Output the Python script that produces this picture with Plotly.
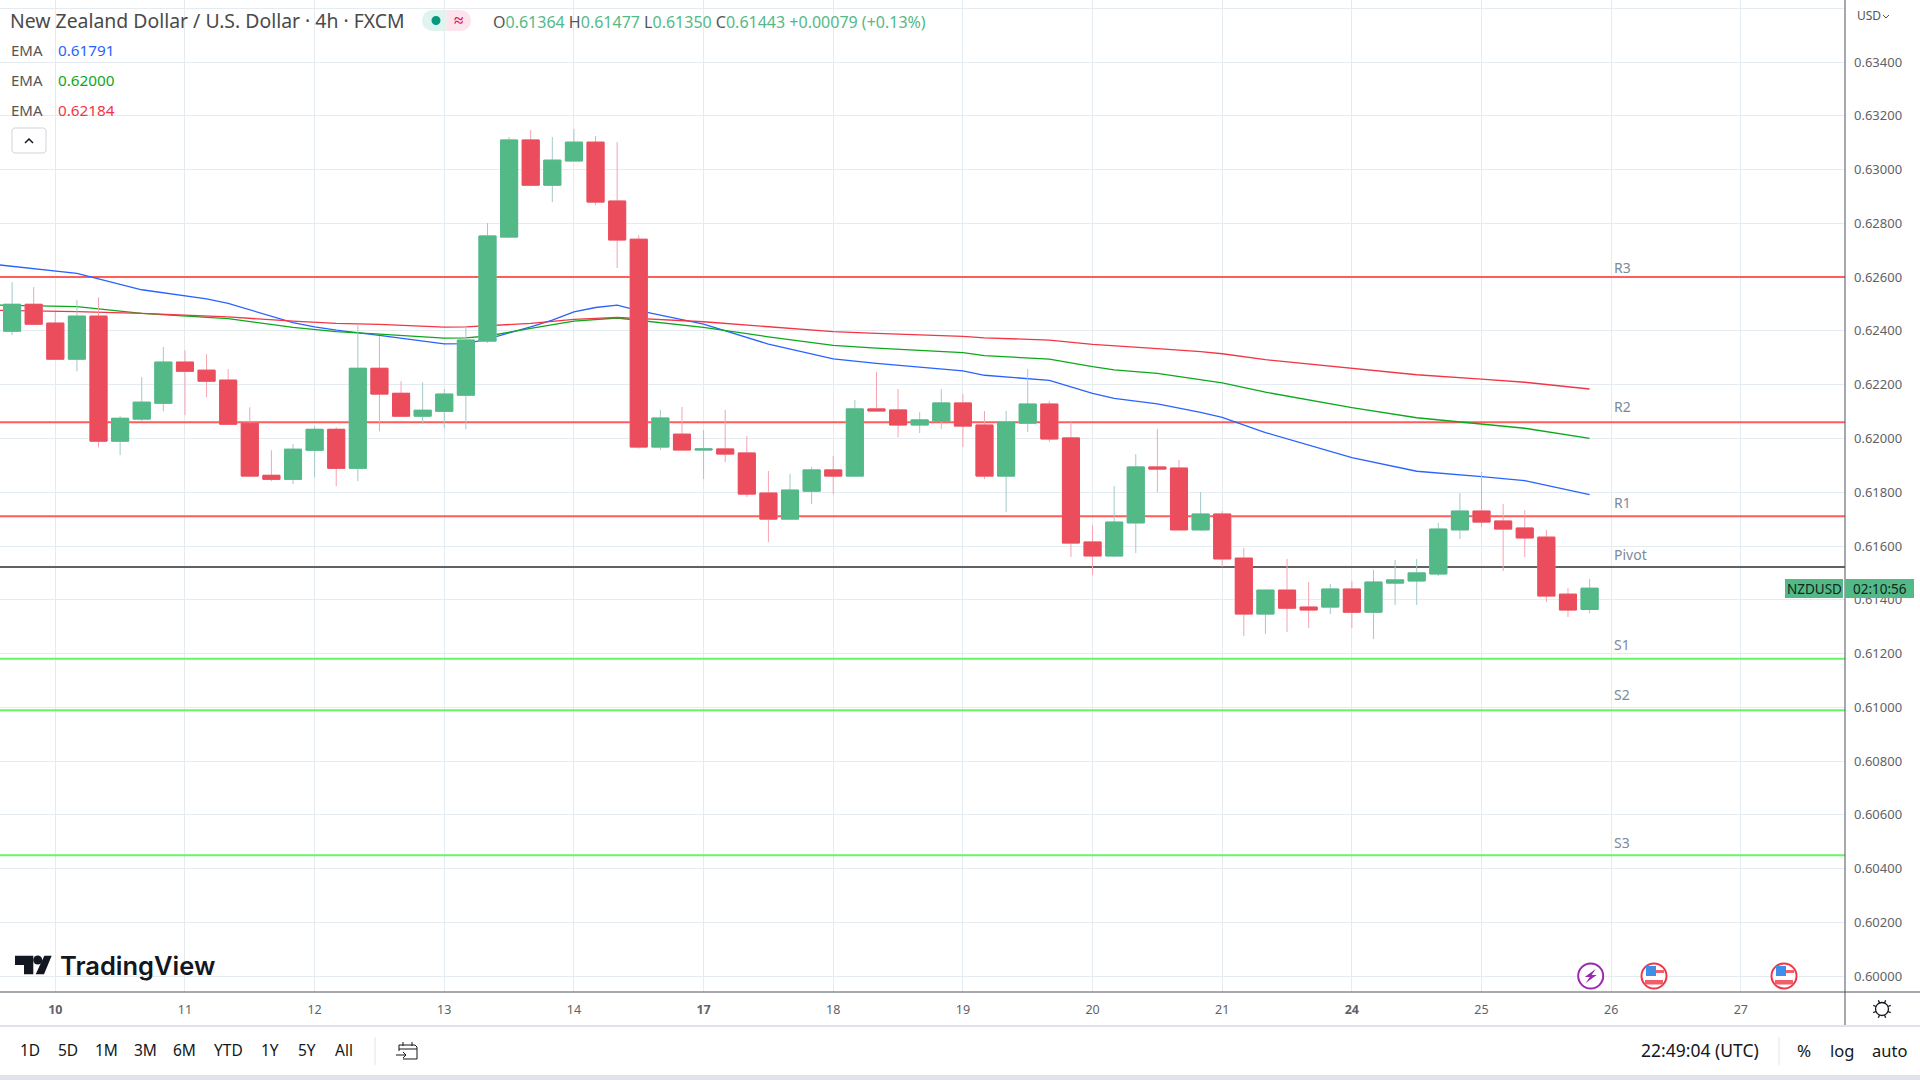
import math
import plotly.graph_objects as go

# ---------- data ----------
opens = [.62399,.62499,.62429,.62295,.62455,.61990,.62072,.62131,.62284,.62254,
         .62217,.62057,.61863,.61848,.61956,.62034,.61889,.62261,.62168,.62083,
         .62101,.62161,.62362,.62749,.63110,.62942,.63032,.63102,.62883,.62741,
         .61968,.62016,.61957,.61961,.61946,.61797,.61700,.61804,.61883,.61860,
         .62110,.62106,.62050,.62064,.62132,.62050,.61860,.62057,.62128,.62002,
         .61615,.61563,.61686,.61894,.61890,.61660,.61719,.61555,.61347,.61436,
         .61373,.61373,.61440,.61354,.61462,.61470,.61496,.61660,.61730,.61693,
         .61667,.61633,.61421,.61364]
highs = [.62581,.62563,.62470,.62514,.62525,.62083,.62228,.62340,.62328,.62313,
         .62258,.62116,.61956,.61979,.62046,.62042,.62421,.62380,.62213,.62209,
         .62183,.62418,.62801,.63121,.63147,.63121,.63151,.63125,.63102,.62756,
         .62106,.62117,.62031,.62106,.62009,.61879,.61868,.61894,.61935,.62143,
         .62247,.62184,.62098,.62184,.62165,.62102,.62102,.62258,.62139,.62061,
         .61678,.61823,.61942,.62035,.61920,.61801,.61730,.61593,.61436,.61552,
         .61466,.61459,.61470,.61511,.61548,.61552,.61686,.61797,.61875,.61756,
         .61734,.61660,.61444,.61477]
lows = [.62384,.62421,.62295,.62250,.61967,.61938,.62064,.62101,.62087,.62153,
        .62053,.61856,.61841,.61830,.61856,.61822,.61841,.62027,.62083,.62053,
        .62038,.62034,.62355,.62745,.62942,.62879,.63032,.62868,.62634,.61962,
        .61957,.61957,.61849,.61912,.61782,.61615,.61700,.61756,.61793,.61860,
        .62102,.62005,.62020,.62035,.61968,.61849,.61726,.62024,.61987,.61559,
        .61492,.61559,.61574,.61801,.61656,.61656,.61522,.61265,.61273,.61280,
        .61295,.61347,.61295,.61254,.61381,.61381,.61488,.61626,.61671,.61507,
        .61559,.61392,.61336,.61350]
closes = [.62499,.62425,.62295,.62455,.61990,.62075,.62135,.62284,.62250,.62213,
          .62053,.61860,.61848,.61960,.62034,.61889,.62261,.62165,.62083,.62105,
          .62165,.62366,.62753,.63110,.62942,.63035,.63102,.62879,.62738,.61968,
          .62076,.61957,.61961,.61942,.61793,.61700,.61808,.61883,.61860,.62110,
          .62102,.62050,.62069,.62132,.62046,.61860,.62061,.62128,.61998,.61611,
          .61563,.61689,.61894,.61886,.61660,.61719,.61552,.61347,.61436,.61369,
          .61362,.61440,.61354,.61466,.61474,.61500,.61663,.61730,.61689,.61663,
          .61630,.61414,.61362,.61443]

ema_blue_x = [-1,3,6,9,10,13,14,15,17,20,21,22,23,24,25,26,27,28,29,30,32,35,38,40,44,45,48,50,51,53,55,56,58,62,65,68,70,73]
ema_blue = [.62649,.62614,.62553,.62519,.62502,.62431,.62415,.62403,.62383,.62352,.62353,.62369,.62393,.62415,.62440,.62471,.62487,.62496,.62475,.62458,.62425,.62351,.62296,.62279,.62251,.62235,.62216,.62168,.62149,.62129,.62097,.62078,.62022,.61929,.61878,.61858,.61843,.61791]
ema_green_x = [-1,3,6,10,13,15,17,20,21,22,24,26,28,32,35,38,40,44,45,48,50,51,53,55,56,58,62,65,68,70,73]
ema_green = [.62497,.62490,.62465,.62446,.62413,.62397,.62388,.62373,.62374,.62381,.62409,.62436,.62448,.62413,.62378,.62346,.62336,.62319,.62308,.62295,.62267,.62255,.62242,.62220,.62207,.62172,.62115,.62077,.62054,.62038,.62000]
ema_red_x = [-1,3,6,10,13,15,17,20,21,22,24,26,28,32,35,38,40,44,45,48,50,51,53,55,56,58,62,65,68,70,73]
ema_red = [.62477,.62472,.62465,.62452,.62436,.62428,.62424,.62414,.62415,.62419,.62428,.62443,.62450,.62434,.62415,.62397,.62391,.62380,.62374,.62366,.62350,.62344,.62334,.62323,.62315,.62293,.62260,.62237,.62221,.62209,.62184]

level_names = ["R3","R2","R1","Pivot","S1","S2","S3"]
level_values = [.62600,.62060,.61711,.61522,.61181,.60989,.60450]
level_colors = ["#ff5c5c","#ff5c5c","#ff5c5c","#616161","#63f763","#63f763","#63f763"]

date_ticks = [2,8,14,20,26,32,38,44,50,56,62,68,74,80]
date_labels = ["<b>10</b>","11","12","13","14","<b>17</b>","18","19","20","21","<b>24</b>","25","26","27"]
price_ticks = [.600,.602,.604,.606,.608,.610,.612,.614,.616,.618,.620,.622,.624,.626,.628,.630,.632,.634,.636]
price_labels = [f"{v:.5f}" for v in price_ticks[:-1]] + [""]
range_buttons = ["1D","5D","1M","3M","6M","YTD","1Y","5Y","All"]

XRANGE = [-0.559, 84.82]
YRANGE = [0.599414, 0.636306]
GREEN, RED = "#53b987", "#eb4d5c"
W_GREEN, W_RED = "#a3c9c9", "#f6a3af"
GRID = "#e4ecf2"
AXIS = "#50535e"
FONT = "Noto Sans"
PW, PH = 1845, 992

fig = go.Figure()

# ---------- level lines + EMAs on the base subplot (below the candles) ----------
for name, val, col in zip(level_names, level_values, level_colors):
    fig.add_trace(go.Scatter(x=XRANGE, y=[val, val], mode="lines", name=name,
                             line=dict(color=col, width=2), hoverinfo="skip"))
for name, xs, ys, col in [("EMA 1", ema_blue_x, ema_blue, "#2962ff"),
                          ("EMA 2", ema_green_x, ema_green, "#0ca81c"),
                          ("EMA 3", ema_red_x, ema_red, "#f23645")]:
    fig.add_trace(go.Scatter(x=xs, y=ys, mode="lines", name=name,
                             line=dict(color=col, width=1.3), hoverinfo="skip"))

# ---------- candles on an overlaid subplot ----------
idx = list(range(len(opens)))
fig.add_trace(go.Candlestick(
    x=idx, open=opens, high=highs, low=lows, close=closes, xaxis="x2", yaxis="y2",
    whiskerwidth=0, name="wicks", hoverinfo="skip",
    increasing=dict(line=dict(color=W_GREEN, width=1), fillcolor=GREEN),
    decreasing=dict(line=dict(color=W_RED, width=1), fillcolor=RED)))
fig.add_trace(go.Candlestick(
    x=idx, open=opens, close=closes,
    high=[max(o, c) for o, c in zip(opens, closes)],
    low=[min(o, c) for o, c in zip(opens, closes)],
    xaxis="x2", yaxis="y2", whiskerwidth=0, name="bodies", hoverinfo="skip",
    increasing=dict(line=dict(color=GREEN, width=1), fillcolor=GREEN),
    decreasing=dict(line=dict(color=RED, width=1), fillcolor=RED)))

# ---------- pixel helpers for page furniture ----------
def fx(px): return px / PW
def fy(py): return 1 - py / PH
def P(x, y): return f"{fx(x):.5f},{fy(y):.5f}"

shapes, annos = [], []
def rect(x0, y0, x1, y1, fill=None, line=None, lw=1, layer="above"):
    shapes.append(dict(type="rect", xref="paper", yref="paper", x0=fx(x0), x1=fx(x1),
                       y0=fy(y0), y1=fy(y1), fillcolor=fill or "rgba(0,0,0,0)",
                       line=dict(color=line or "rgba(0,0,0,0)", width=lw if line else 0), layer=layer))
def hline(x0, x1, y, col, lw=1):
    shapes.append(dict(type="line", xref="paper", yref="paper", x0=fx(x0), x1=fx(x1),
                       y0=fy(y), y1=fy(y), line=dict(color=col, width=lw), layer="above"))
def vline(x, y0, y1, col, lw=1):
    shapes.append(dict(type="line", xref="paper", yref="paper", x0=fx(x), x1=fx(x),
                       y0=fy(y0), y1=fy(y1), line=dict(color=col, width=lw), layer="above"))
def poly(pts, fill=None, line=None, lw=1, close=True):
    d = "M" + " L".join(P(x, y) for x, y in pts) + (" Z" if close else "")
    shapes.append(dict(type="path", xref="paper", yref="paper", path=d,
                       fillcolor=fill or "rgba(0,0,0,0)",
                       line=dict(color=line or "rgba(0,0,0,0)", width=lw if line else 0), layer="above"))
def circle(cx, cy, r, fill=None, line=None, lw=1):
    shapes.append(dict(type="circle", xref="paper", yref="paper", x0=fx(cx-r), x1=fx(cx+r),
                       y0=fy(cy+r), y1=fy(cy-r), fillcolor=fill or "rgba(0,0,0,0)",
                       line=dict(color=line or "rgba(0,0,0,0)", width=lw if line else 0), layer="above"))
def text(x, y, s, size=13, col="#131722", anchor="left", weight=None, family=FONT):
    f = dict(size=size, color=col, family=family)
    if weight: f["weight"] = weight
    annos.append(dict(xref="paper", yref="paper", x=fx(x), y=fy(y), text=s, showarrow=False,
                      xanchor=anchor, yanchor="middle", font=f, borderpad=0, borderwidth=0))

# axes frame and footer
hline(0, 1920, 992, AXIS)
vline(1845, 0, 1026, AXIS)
hline(0, 1920, 1026, "#e0e3eb", 2)
rect(0, 1075, 1920, 1080, fill="#e0e3eb")
vline(375, 1037, 1065, "#e0e3eb")
vline(1779, 1037, 1065, "#e0e3eb")

# legend block
text(10, 21, "New Zealand Dollar / U.S. Dollar · 4h · FXCM", 19.4, "#4a4a4a")
circle(432.5, 20.5, 10.5, fill="#dff3ef")
circle(460.5, 20.5, 10.5, fill="#fde4ec")
rect(432.5, 10, 446.5, 31, fill="#dff3ef")
rect(446.5, 10, 460.5, 31, fill="#fde4ec")
circle(436, 20.5, 4.5, fill="#089981")
text(458, 20, "≈", 17, "#d81b60", "center", weight=700)
g = "#53b987"
text(493, 22,
     f"O<span style='color:{g}'>0.61364</span> H<span style='color:{g}'>0.61477</span> "
     f"L<span style='color:{g}'>0.61350</span> C<span style='color:{g}'>0.61443</span> "
     f"<span style='color:{g}'>+0.00079 (+0.13%)</span>", 16, "#555555")
for y, val, col in [(50, "0.61791", "#2962ff"), (80, "0.62000", "#0ca81c"), (110.5, "0.62184", "#f23645")]:
    text(11, y, "EMA", 15, "#555555")
    text(58, y, val, 15.3, col)
shapes.append(dict(type="path", xref="paper", yref="paper", layer="above",
                   path=f"M{P(14,128)} L{P(44,128)} L{P(46,130)} L{P(46,151)} L{P(44,153)} L{P(14,153)} L{P(12,151)} L{P(12,130)} Z",
                   fillcolor="white", line=dict(color="#d1d4dc", width=1)))
poly([(25, 143), (29, 139), (33, 143)], line="#131722", lw=1.5, close=False)

# right axis top label
text(1857, 16, "USD", 12, "#555555")
poly([(1883, 15), (1886, 18), (1889, 15)], line="#555555", lw=1, close=False)

# level labels
for name, y in zip(level_names, [267, 406, 502, 554, 644, 694, 842]):
    text(1614, y, name, 14, "#7d8a99")

# price tag
rect(1785, 579, 1843, 598, fill=GREEN)
rect(1845, 579, 1914, 598, fill=GREEN)
text(1814, 588.5, "NZDUSD", 13.5, "#10261d", "center")
text(1879.5, 588.5, "02:10:56", 13.5, "#10261d", "center")

# TradingView mark and word
poly([(15, 955.7), (33.3, 955.7), (33.3, 974.3), (24, 974.3), (24, 965), (15, 965)], fill="#131722")
circle(37.7, 960, 4.5, fill="#131722")
poly([(44.3, 955.7), (51.7, 955.7), (44, 974.3), (35.7, 974.3)], fill="#131722")
text(60, 965, "TradingView", 25.5, "#131722", weight=600, family="Inter")

# event icons
cx, cy = 1590.7, 976
circle(cx, cy, 12.5, fill="white", line="#9c27b0", lw=2)
poly([(cx+5, cy-7), (cx-6, cy+1), (cx-1, cy+1), (cx-5, cy+7), (cx+6, cy-1), (cx+1, cy-1)], fill="#9c27b0")
for cx in (1654, 1784):
    circle(cx, cy, 12.5, fill="white", line="#f23645", lw=2)
    rect(cx-8, cy-10, cx+2, cy, fill="#3d8fe8")
    rect(cx+2, cy-6, cx+10, cy-3, fill="#f0606c")
    rect(cx-9, cy+4, cx+9, cy+8.5, fill="#f0606c")

# gear
gx, gy = 1882, 1009
circle(gx, gy, 6.5, line="#131722", lw=1.3)
for k in range(8):
    a = k * math.pi / 4 + math.pi / 8
    poly([(gx + 6.5*math.cos(a), gy + 6.5*math.sin(a)),
          (gx + 9.5*math.cos(a), gy + 9.5*math.sin(a))], line="#131722", lw=1.3, close=False)

# bottom toolbar
for lab, x in zip(range_buttons, [30, 68, 106, 145, 184, 228, 270, 307, 344]):
    text(x, 1050, lab, 15.5, "#131722", "center")
poly([(399, 1051), (399, 1045), (415, 1045), (417, 1047), (417, 1059), (403, 1059)], line="#131722", lw=1, close=False)
hline(399, 417, 1049, "#131722")
vline(403, 1042, 1046, "#131722")
vline(412, 1042, 1046, "#131722")
hline(396, 406, 1055, "#131722")
poly([(403, 1052), (406, 1055), (403, 1058)], line="#131722", lw=1, close=False)
text(1700, 1050, "22:49:04 (UTC)", 17.5, "#131722", "center")
text(1804, 1050, "%", 17, "#131722", "center")
text(1842, 1050, "log", 16.5, "#131722", "center")
text(1889, 1050, "auto", 16.5, "#131722", "center")

fig.update_layout(
    width=1920, height=1080, margin=dict(l=0, r=75, t=0, b=88, pad=0, autoexpand=False),
    paper_bgcolor="white", plot_bgcolor="white", showlegend=False,
    boxmode="overlay", boxgap=0.21, boxgroupgap=0,
    font=dict(family=FONT, color="#5f6368"),
    xaxis=dict(range=XRANGE, tickmode="array", tickvals=date_ticks, ticktext=date_labels,
               showgrid=True, gridcolor=GRID, gridwidth=1, zeroline=False, showline=False,
               ticks="", ticklabelstandoff=8, tickfont=dict(size=12.5, color="#5f6368", family=FONT),
               rangeslider=dict(visible=False), fixedrange=True),
    yaxis=dict(range=YRANGE, side="right", tickmode="array", tickvals=price_ticks, ticktext=price_labels,
               showgrid=True, gridcolor=GRID, gridwidth=1, zeroline=False, showline=False,
               ticks="", ticklabelstandoff=8, tickfont=dict(size=13, color="#5f6368", family=FONT),
               fixedrange=True),
    xaxis2=dict(range=XRANGE, overlaying="x", visible=False, rangeslider=dict(visible=False), fixedrange=True),
    yaxis2=dict(range=YRANGE, overlaying="y", side="right", visible=False, fixedrange=True),
    shapes=shapes, annotations=annos,
)

fig.write_html("out.html", config={"displayModeBar": False},
               post_script="document.body.style.margin='0';document.body.style.overflow='hidden';")
